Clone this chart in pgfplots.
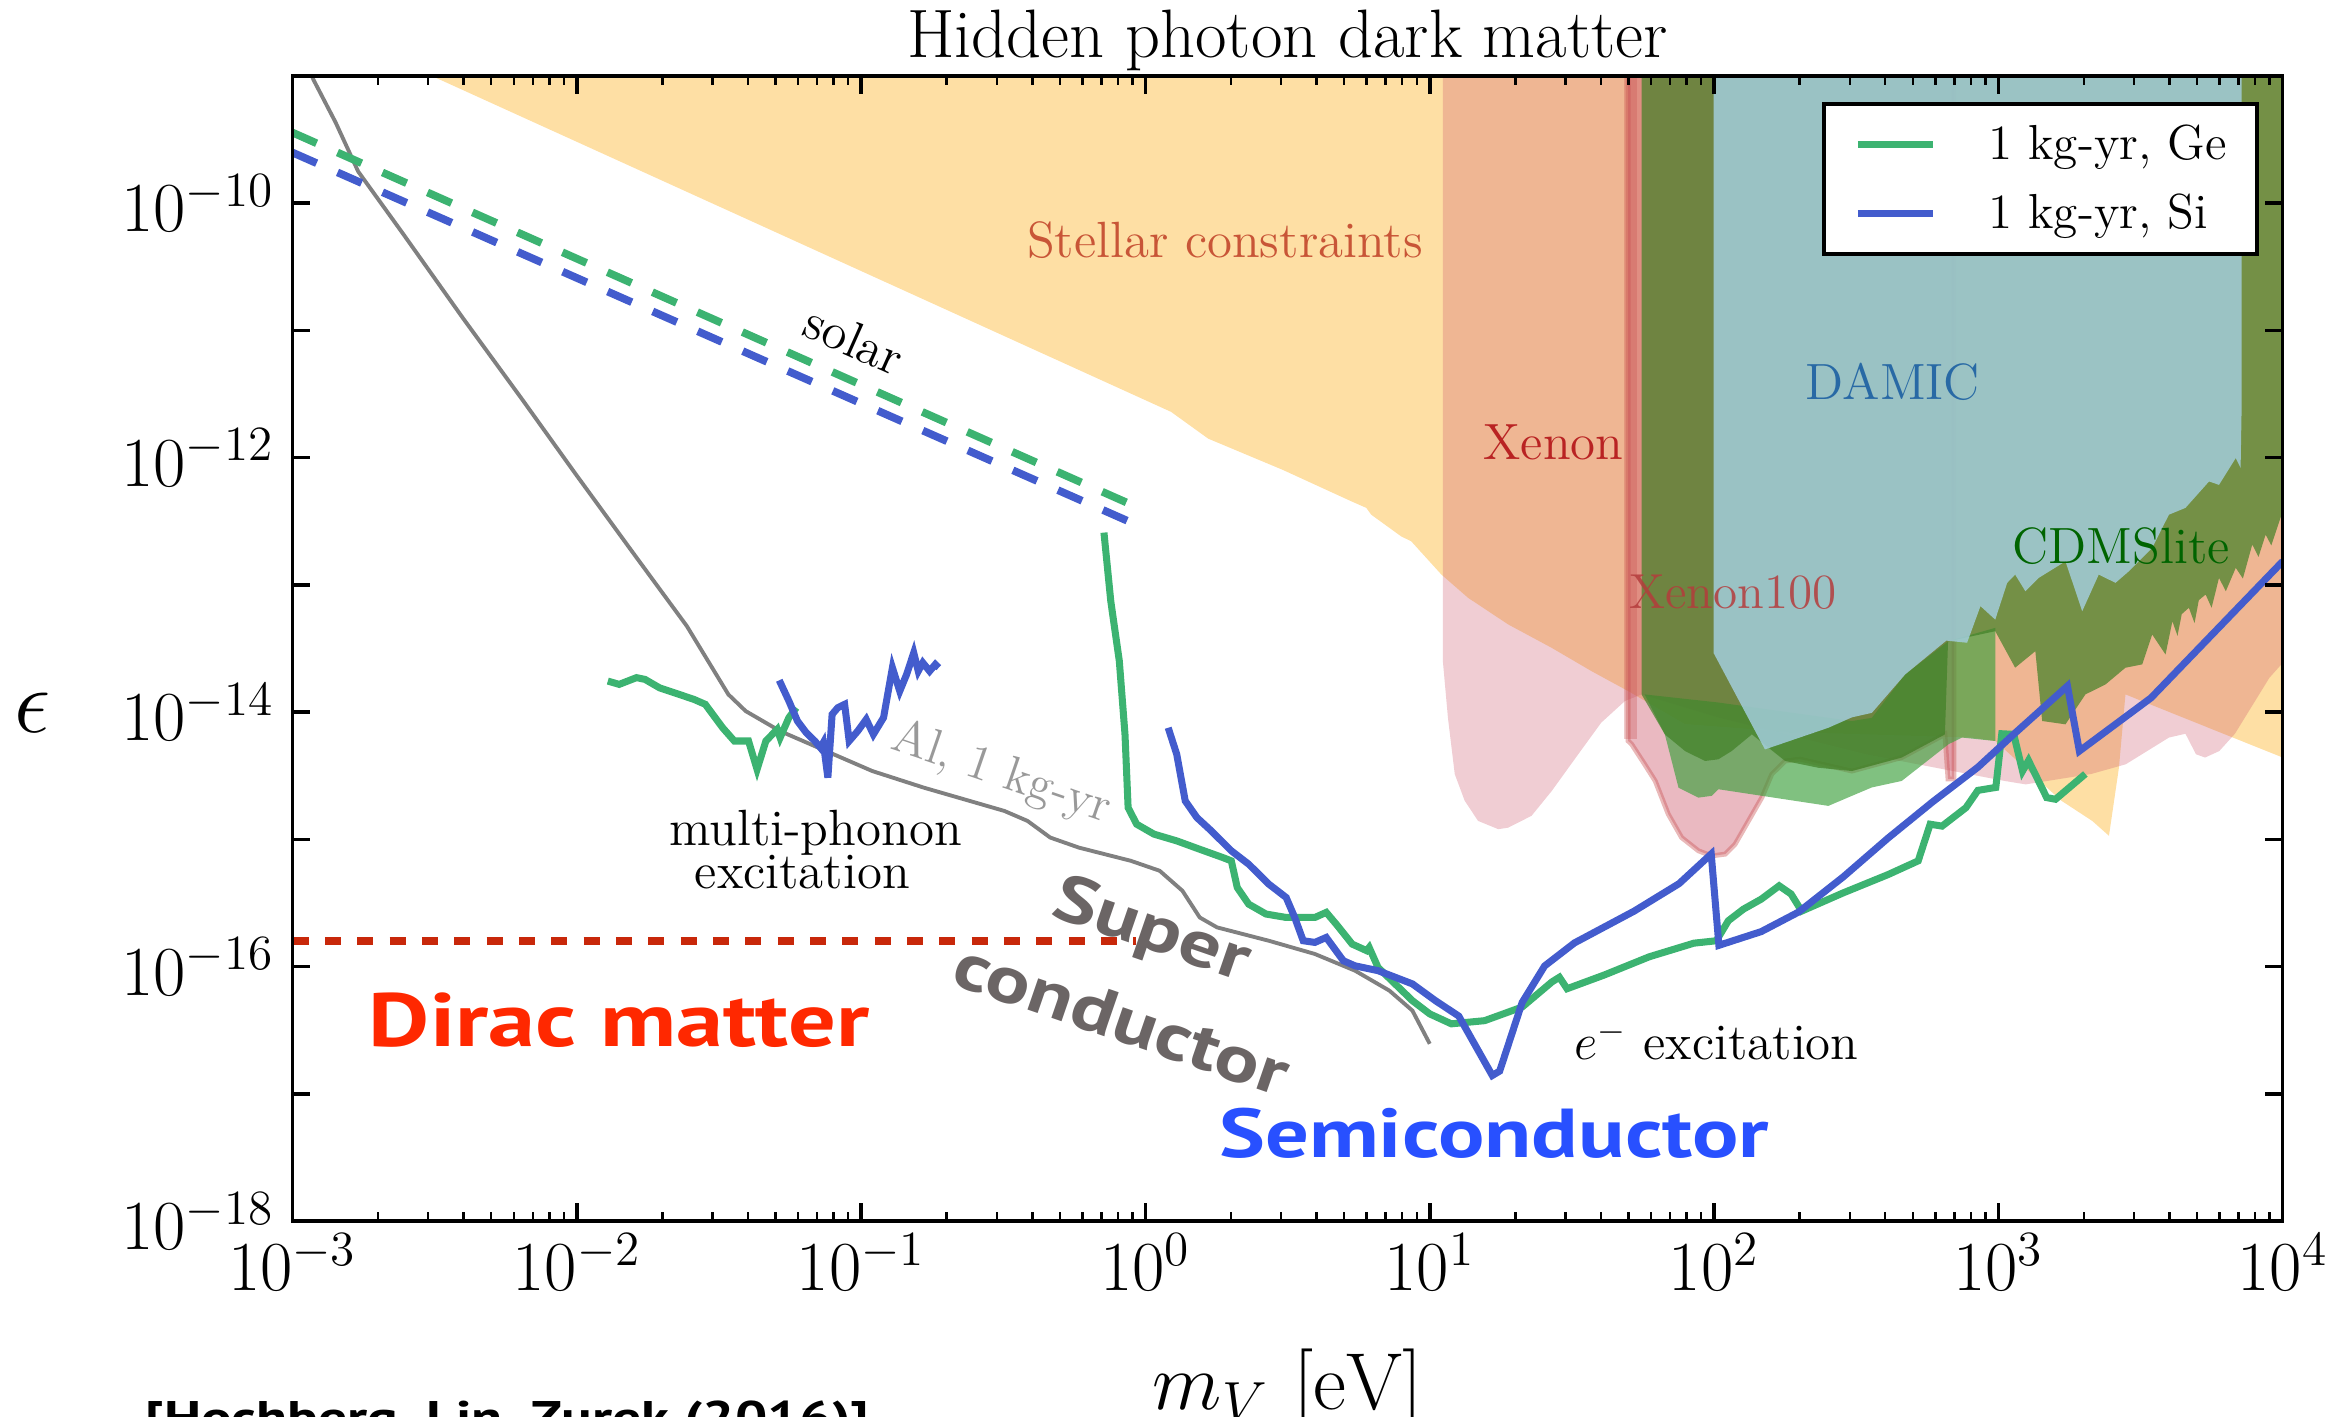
\RequirePackage{fix-cm}
\documentclass[border=0pt]{standalone}
\usepackage{fontspec}
\usepackage{pgfplots}
\pgfplotsset{compat=1.18}
\usepackage{pgfplotstable}
\newfontfamily\gill[FakeStretch=1.25]{PT Sans}
\definecolor{stellar}{RGB}{254,223,164}
\definecolor{xpink}{RGB}{205,88,108}
\definecolor{xedge}{RGB}{200,80,80}
\definecolor{cdms}{RGB}{64,128,38}
\definecolor{lgreen}{RGB}{60,160,60}
\definecolor{damic}{RGB}{162,205,219}
\definecolor{ge}{RGB}{60,179,113}
\definecolor{si}{RGB}{67,92,205}
\definecolor{dirac}{RGB}{200,40,10}
\definecolor{stellartxt}{RGB}{200,85,55}
\definecolor{xenontxt}{RGB}{185,35,35}
\definecolor{xenonhtxt}{RGB}{180,60,60}
\definecolor{damictxt}{RGB}{40,105,165}
\definecolor{cdmstxt}{RGB}{0,100,0}
\definecolor{supertxt}{RGB}{107,101,101}
\definecolor{diractxt}{RGB}{255,40,0}
\definecolor{semitxt}{RGB}{40,80,255}
\pgfplotstableset{LL/.style={x expr={10^(\thisrowno{0})}, y expr={10^(\thisrowno{1})}, header=false, row sep=\\}}
\begin{document}
\begin{tikzpicture}
\begin{axis}[name=ax, scale only axis, width=19.9cm, height=11.45cm,
  xmode=log, ymode=log, xmin=1e-3, xmax=1e4, ymin=1e-18, ymax=1e-9,
  xtick={1e-3,1e-2,1e-1,1,10,100,1000,10000},
  ytick={1e-18,1e-17,1e-16,1e-15,1e-14,1e-13,1e-12,1e-11,1e-10,1e-9},
  yticklabels={$10^{-18}$,,$10^{-16}$,,$10^{-14}$,,$10^{-12}$,,$10^{-10}$,},
  yminorticks=false,
  axis on top, no markers,
  axis line style={line width=1pt},
  major tick length=0.18cm, minor tick length=0.09cm,
  every major tick/.append style={line width=1pt, black},
  every minor tick/.append style={line width=0.7pt, black},
  tick label style={font=\fontsize{20}{24}\selectfont},
  yticklabel style={xshift=-0.06cm},
  title={Hidden photon dark matter},
  every axis title/.style={at={(0.5,1)}, anchor=base, yshift=0.18cm, font=\fontsize{19.5}{23}\selectfont},
  xlabel={$m_V\ [\mathrm{eV}]$},
  every axis x label/.style={at={(rel axis cs:0.5,0)}, anchor=north, inner sep=0pt, yshift=-1.27cm, font=\fontsize{23}{27}\selectfont},
  ylabel={$\epsilon$},
  every axis y label/.style={at={(rel axis cs:0,0.444)}, anchor=center, xshift=-2.6cm, font=\fontsize{26}{30}\selectfont},
  legend style={at={(rel axis cs:0.988,0.977)}, anchor=north east, draw=black, line width=1.1pt, fill=white,
    inner xsep=0.3cm, inner ysep=0.17cm, font=\fontsize{14}{17}\selectfont, row sep=0.22cm,
    nodes={inner xsep=0pt, inner ysep=1pt},
    /tikz/every odd column/.append style={column sep=0.52cm}},
  legend cell align=left,
  legend image code/.code={\draw[#1, line width=2pt] (0cm,0cm) -- (0.75cm,0cm);},
]
% Stellar constraints
\addplot[forget plot, draw=none, fill=stellar] table[LL] {
-2.853 -8.653\\ -2.506 -9.004\\ 0.090 -11.640\\ 0.221 -11.851\\ 0.484 -12.097\\ 0.724 -12.343\\
0.777 -12.395\\ 0.794 -12.448\\ 0.899 -12.618\\ 0.935 -12.658\\ 1.041 -12.919\\ 1.135 -13.102\\
1.276 -13.311\\ 1.429 -13.495\\ 1.569 -13.678\\ 1.698 -13.835\\ 1.898 -14.094\\ 2.276 -14.158\\
2.907 -14.200\\ 2.989 -14.227\\ 3.222 -14.697\\ 3.330 -14.855\\ 3.389 -14.972\\ 3.424 -14.437\\
3.447 -13.861\\ 4.000 -14.357\\ 4.168 -14.533\\ 4.168 -8.653\\
};
% Xenon (pink)
\addplot[forget plot, draw=none, fill=xpink, fill opacity=0.3] table[LL] {
1.046 -8.653\\ 1.046 -13.596\\ 1.064 -14.045\\ 1.088 -14.488\\ 1.123 -14.697\\ 1.170 -14.855\\
1.241 -14.920\\ 1.276 -14.908\\ 1.358 -14.815\\ 1.429 -14.620\\ 1.522 -14.332\\ 1.603 -14.083\\
1.687 -13.912\\ 1.745 -13.861\\ 2.013 -14.041\\ 2.539 -14.334\\ 3.022 -14.541\\ 3.096 -14.568\\
3.327 -14.486\\ 3.448 -14.410\\ 3.600 -14.200\\ 3.658 -14.170\\ 3.695 -14.331\\ 3.727 -14.357\\
3.777 -14.306\\ 3.832 -14.170\\ 3.953 -13.731\\ 4.063 -13.455\\ 4.063 -8.653\\
};
% Xenon100
\addplot[forget plot, draw=xedge, draw opacity=0.4, line width=1.4pt, fill=xpink, fill opacity=0.42] table[LL] {
1.698 -8.653\\ 1.698 -14.227\\ 1.710 -14.252\\ 1.756 -14.410\\ 1.793 -14.541\\ 1.839 -14.802\\
1.886 -14.986\\ 1.945 -15.090\\ 1.992 -15.130\\ 2.039 -15.116\\ 2.074 -15.038\\ 2.121 -14.855\\
2.168 -14.672\\ 2.203 -14.488\\ 2.250 -14.384\\ 2.302 -14.369\\ 2.485 -14.463\\ 2.660 -14.357\\
2.812 -14.175\\ 2.823 -14.526\\ 2.844 -14.526\\ 2.844 -8.653\\
};
\addplot[forget plot, color=xedge, opacity=0.3, line width=3.5pt] coordinates {(50.8,1e-9) (50.8,6.1e-15)};
% light green region
\addplot[forget plot, draw=none, fill=lgreen, fill opacity=0.65] table[LL] {
1.756 -13.861\\ 1.827 -14.175\\ 1.875 -14.594\\ 1.945 -14.672\\ 1.992 -14.658\\ 2.015 -14.606\\
2.402 -14.737\\ 2.485 -14.658\\ 2.555 -14.592\\ 2.660 -14.541\\ 2.825 -14.252\\ 2.872 -14.200\\
2.989 -14.227\\ 2.989 -13.338\\ 2.825 -13.442\\ 2.672 -13.704\\ 2.555 -14.045\\ 2.485 -14.070\\
2.013 -13.924\\
};
% CDMSlite
\addplot[forget plot, draw=none, fill=cdms, fill opacity=0.7] table[LL] {
1.745 -8.653\\ 1.745 -13.861\\ 1.827 -14.175\\ 1.898 -14.306\\ 1.968 -14.384\\ 2.015 -14.371\\
2.062 -14.306\\ 2.133 -14.175\\ 2.250 -14.384\\ 2.366 -14.437\\ 2.485 -14.463\\ 2.660 -14.357\\
2.812 -14.175\\ 2.823 -13.444\\ 2.989 -13.364\\ 3.059 -13.651\\ 3.130 -13.521\\ 3.154 -14.070\\
3.236 -14.096\\ 3.306 -13.861\\ 3.377 -13.782\\ 3.447 -13.651\\ 3.506 -13.625\\ 3.541 -13.390\\
3.588 -13.547\\ 3.612 -13.286\\ 3.630 -13.400\\ 3.645 -13.230\\ 3.670 -13.180\\ 3.690 -13.300\\
3.705 -13.120\\ 3.729 -13.076\\ 3.750 -13.180\\ 3.776 -12.945\\ 3.800 -13.050\\ 3.835 -12.866\\
3.860 -12.950\\ 3.893 -12.683\\ 3.915 -12.780\\ 3.940 -12.605\\ 3.960 -12.690\\ 4.000 -12.422\\
4.063 -12.284\\ 4.063 -8.653\\
};
% DAMIC
\addplot[forget plot, draw=none, fill=damic, fill opacity=0.85] table[LL] {
1.998 -8.653\\ 1.998 -13.534\\ 2.179 -14.293\\ 2.402 -14.123\\ 2.485 -14.041\\ 2.555 -14.006\\
2.672 -13.704\\ 2.817 -13.438\\ 2.890 -13.455\\ 2.937 -13.167\\ 2.989 -13.273\\ 3.031 -12.984\\
3.059 -12.919\\ 3.095 -13.050\\ 3.142 -12.945\\ 3.236 -12.815\\ 3.295 -13.207\\ 3.353 -12.919\\
3.412 -12.984\\ 3.459 -12.893\\ 3.541 -12.709\\ 3.600 -12.448\\ 3.658 -12.395\\ 3.741 -12.187\\
3.776 -12.214\\ 3.835 -12.003\\ 3.852 -12.081\\ 3.856 -11.558\\ 3.856 -8.653\\
};
% Al superconductor line
\addplot[forget plot, color=gray, line width=1.1pt] table[LL] {
-2.960 -8.850\\ -2.926 -9.031\\ -2.848 -9.367\\ -2.769 -9.751\\ -2.611 -10.241\\ -2.401 -10.902\\
-2.191 -11.546\\ -2.007 -12.120\\ -1.797 -12.764\\ -1.613 -13.324\\ -1.467 -13.861\\ -1.406 -13.992\\
-1.285 -14.149\\ -1.123 -14.306\\ -0.961 -14.463\\ -0.779 -14.594\\ -0.618 -14.698\\ -0.496 -14.777\\
-0.415 -14.855\\ -0.335 -14.986\\ -0.234 -15.065\\ -0.051 -15.169\\ 0.050 -15.247\\ 0.130 -15.404\\
0.191 -15.614\\ 0.252 -15.692\\ 0.434 -15.797\\ 0.596 -15.901\\ 0.737 -16.032\\ 0.858 -16.189\\
0.939 -16.346\\ 1.000 -16.607\\
};
% Ge low mass
\addplot[forget plot, color=ge, line width=2pt] table[LL] {
-1.891 -13.756\\ -1.851 -13.782\\ -1.790 -13.729\\ -1.760 -13.743\\ -1.709 -13.809\\ -1.588 -13.900\\
-1.548 -13.939\\ -1.487 -14.123\\ -1.446 -14.227\\ -1.396 -14.227\\ -1.366 -14.450\\ -1.335 -14.227\\
-1.295 -14.135\\ -1.285 -14.201\\ -1.254 -14.043\\ -1.228 -13.965\\
};
% Si low mass
\addplot[forget plot, color=si, line width=2pt] table[LL] {
-1.288 -13.750\\ -1.254 -13.913\\ -1.224 -14.070\\ -1.193 -14.162\\ -1.163 -14.227\\ -1.143 -14.280\\
-1.133 -14.240\\ -1.117 -14.515\\ -1.102 -14.018\\ -1.082 -13.965\\ -1.058 -13.939\\ -1.042 -14.227\\
-1.012 -14.149\\ -0.982 -14.057\\ -0.957 -14.175\\ -0.921 -14.043\\ -0.890 -13.651\\ -0.864 -13.835\\
-0.840 -13.704\\ -0.815 -13.534\\ -0.799 -13.678\\ -0.783 -13.612\\ -0.759 -13.678\\ -0.739 -13.625\\
-0.727 -13.651\\
};
% Ge high mass
\addplot[forget plot, color=ge, line width=2pt] table[LL] {
-0.146 -12.589\\ -0.122 -13.127\\ -0.092 -13.599\\ -0.072 -14.175\\ -0.061 -14.751\\ -0.031 -14.881\\
0.030 -14.959\\ 0.110 -15.012\\ 0.191 -15.078\\ 0.272 -15.143\\ 0.302 -15.169\\ 0.323 -15.379\\
0.363 -15.509\\ 0.424 -15.587\\ 0.495 -15.614\\ 0.596 -15.614\\ 0.636 -15.574\\ 0.676 -15.680\\
0.727 -15.823\\ 0.778 -15.875\\ 0.787 -15.850\\ 0.818 -16.006\\ 0.878 -16.136\\ 0.939 -16.268\\
1.000 -16.372\\ 1.076 -16.450\\ 1.193 -16.425\\ 1.325 -16.318\\ 1.430 -16.120\\ 1.456 -16.084\\
1.483 -16.174\\ 1.614 -16.066\\ 1.772 -15.923\\ 1.929 -15.816\\ 2.008 -15.797\\ 2.050 -15.640\\
2.103 -15.549\\ 2.166 -15.470\\ 2.229 -15.365\\ 2.271 -15.430\\ 2.308 -15.564\\ 2.455 -15.420\\
2.612 -15.277\\ 2.718 -15.169\\ 2.760 -14.881\\ 2.802 -14.896\\ 2.886 -14.751\\ 2.928 -14.615\\
2.991 -14.592\\ 3.012 -14.170\\ 3.054 -14.175\\ 3.085 -14.463\\ 3.106 -14.381\\ 3.170 -14.672\\
3.201 -14.685\\ 3.306 -14.486\\
};
% Si high mass
\addplot[forget plot, color=si, line width=2pt] table[LL] {
0.080 -14.123\\ 0.110 -14.331\\ 0.140 -14.698\\ 0.181 -14.829\\ 0.232 -14.934\\ 0.302 -15.090\\
0.363 -15.195\\ 0.434 -15.352\\ 0.495 -15.457\\ 0.525 -15.614\\ 0.555 -15.797\\ 0.596 -15.810\\
0.636 -15.771\\ 0.696 -15.954\\ 0.737 -15.994\\ 0.818 -16.032\\ 0.939 -16.136\\ 1.020 -16.268\\
1.102 -16.389\\ 1.220 -16.856\\ 1.246 -16.821\\ 1.325 -16.282\\ 1.404 -15.995\\ 1.509 -15.814\\
1.719 -15.564\\ 1.877 -15.348\\ 1.990 -15.115\\ 2.017 -15.833\\ 2.166 -15.725\\ 2.297 -15.572\\
2.455 -15.294\\ 2.612 -14.990\\ 2.770 -14.703\\ 2.928 -14.433\\ 3.059 -14.164\\ 3.243 -13.795\\
3.285 -14.306\\ 3.537 -13.888\\ 4.000 -12.815\\
};
% solar (dashed)
\addplot[forget plot, color=ge, line width=2.2pt, dash pattern=on 7.5pt off 6.5pt] coordinates {(1e-3,3.59e-10) (0.91,4.19e-13)};
\addplot[forget plot, color=si, line width=2.2pt, dash pattern=on 7.5pt off 6.5pt] coordinates {(1e-3,2.50e-10) (0.91,3.03e-13)};
% Dirac matter (dotted)
\addplot[forget plot, color=dirac, line width=2.2pt, dash pattern=on 4.6pt off 4.6pt] coordinates {(1e-3,1.59e-16) (0.93,1.59e-16)};
% legend
\addlegendimage{color=ge, line width=2pt}
\addlegendentry{1 kg-yr, Ge}
\addlegendimage{color=si, line width=2pt}
\addlegendentry{1 kg-yr, Si}
% annotations
\node[font=\fontsize{14.5}{17}\selectfont, text=stellartxt] at (rel axis cs:0.4685,0.8568) {Stellar constraints};
\node[font=\fontsize{14.5}{17}\selectfont, text=xenontxt] at (rel axis cs:0.6336,0.6797) {Xenon};
\node[font=\fontsize{14.5}{17}\selectfont, text=damictxt] at (rel axis cs:0.8041,0.7331) {DAMIC};
\node[font=\fontsize{14.5}{17}\selectfont, text=cdmstxt] at (rel axis cs:0.9189,0.5898) {CDMSlite};
\node[font=\fontsize{14}{17}\selectfont, text=xenonhtxt, text opacity=0.85] at (rel axis cs:0.7237,0.5495) {Xenon100};
\node[font=\fontsize{14.5}{17}\selectfont, rotate=-24] at (rel axis cs:0.2823,0.7695) {solar};
\node[font=\fontsize{14}{17}\selectfont, text=gray!80, rotate=-19] at (rel axis cs:0.3562,0.3904) {Al, 1 kg-yr};
\node[font=\fontsize{14.5}{17}\selectfont, anchor=base] at (rel axis cs:0.2628,0.3279) {multi-phonon};
\node[font=\fontsize{14.5}{17}\selectfont, anchor=base] at (rel axis cs:0.2562,0.2900) {excitation};
\node[font=\fontsize{14.5}{17}\selectfont] at (rel axis cs:0.7155,0.1576) {$e^{-}$ excitation};
\node[font=\gill\bfseries\fontsize{21.5}{25}\selectfont, text=diractxt] at (rel axis cs:0.1641,0.1751) {Dirac matter};
\node[font=\gill\bfseries\fontsize{18.8}{23}\selectfont, text=supertxt, rotate=-19] at (rel axis cs:0.4313,0.2522) {Super};
\node[font=\gill\bfseries\fontsize{18.8}{23}\selectfont, text=supertxt, rotate=-19] at (rel axis cs:0.4168,0.1768) {conductor};
\node[font=\gill\bfseries\fontsize{19.7}{24}\selectfont, text=semitxt] at (rel axis cs:0.6038,0.0764) {Semiconductor};
\end{axis}
\node[anchor=north west, inner sep=0pt, font=\gill\bfseries\fontsize{13}{16}\selectfont] at ([xshift=-1.477cm, yshift=-1.79cm]ax.south west) {[Hochberg, Lin, Zurek (2016)]};
\pgfresetboundingbox
\useasboundingbox ([xshift=-2.925cm, yshift=-1.957cm]ax.south west) rectangle ([xshift=0.573cm, yshift=0.759cm]ax.north east);
\end{tikzpicture}
\end{document}
